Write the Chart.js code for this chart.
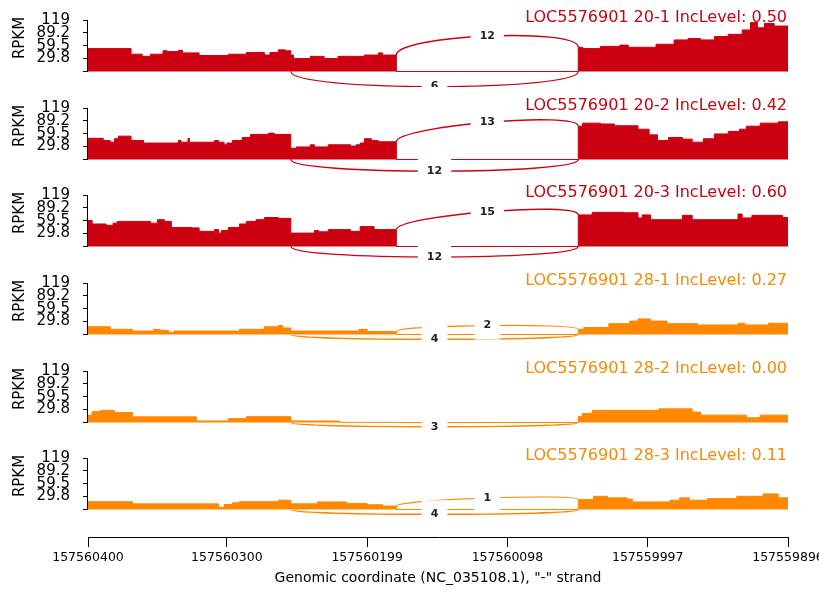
<!DOCTYPE html>
<html>
<head>
<meta charset="utf-8">
<script src="https://cdn.jsdelivr.net/npm/chart.js@4.4.1/dist/chart.umd.min.js"></script>
<style>
  body { margin: 0; background: #fff; }
  #wrap { position: relative; width: 819px; height: 596px; overflow: hidden; }
  .panel { position: absolute; left: 0; width: 819px; }
</style>
</head>
<body>
<div id="wrap"></div>
<script>
const GENE = 'LOC5576901'
const START = 157560400
const END = 157559896
const samples = ['20-1', '20-2', '20-3', '28-1', '28-2', '28-3']
const incLevels = ['0.50', '0.42', '0.60', '0.27', '0.00', '0.11']
const groupColors = ['#CC0011', '#CC0011', '#CC0011', '#FF8800', '#FF8800', '#FF8800']
const yTicks = [0, 29.8, 59.5, 89.2, 119]
const xTicks = [157560400, 157560300, 157560199, 157560098, 157559997, 157559896]
const xTitle = 'Genomic coordinate (NC_035108.1), "-" strand'

// exons and junctions, in bp counted from START (minus strand, so leftwards)
const exonUp = [0, 222]
const exonDown = [353, 504]
const incJunction = [222, 353]
const skipJunction = [146, 353]
const incCounts = [12, 13, 15, 2, 0, 1]
const skipCounts = [6, 12, 12, 4, 3, 4]

// coverage steps [bp from START, RPKM]
const cov20_1 = [[0, 53], [31, 40], [39, 35], [45, 40], [54, 48], [57, 46], [65, 49], [68, 43], [80, 37],
  [101, 40], [114, 44], [127, 38], [131, 44], [137, 50], [142, 48], [146, 38], [148, 30], [160, 35],
  [170, 30], [180, 35], [199, 38], [209, 43], [212, 38],
  [353, 56], [356, 53], [369, 58], [383, 61], [389, 56], [409, 63], [422, 73], [432, 76], [441, 73],
  [451, 81], [461, 86], [471, 96], [477, 113], [482, 101], [487, 111], [494, 105]]
const cov20_2 = [[0, 49], [11, 44], [16, 40], [19, 48], [22, 54], [31, 44], [40, 38], [65, 44], [67, 40],
  [72, 49], [73, 40], [91, 44], [94, 40], [98, 34], [100, 38], [104, 44], [111, 51], [117, 58], [130, 61],
  [134, 58], [146, 26], [150, 29], [160, 34], [163, 29], [173, 34], [189, 31], [193, 34], [196, 38],
  [199, 48], [204, 44], [209, 41],
  [353, 77], [356, 84], [369, 82], [379, 78], [396, 70], [404, 57], [410, 44], [418, 51], [428, 47],
  [435, 40], [443, 48], [451, 59], [461, 65], [469, 70], [474, 77], [484, 84], [497, 87]]
const cov20_3 = [[0, 60], [3, 52], [13, 49], [18, 54], [21, 58], [45, 54], [50, 62], [55, 58], [60, 44],
  [75, 43], [80, 35], [91, 39], [94, 31], [96, 37], [101, 44], [109, 52], [114, 58], [121, 62], [127, 67],
  [137, 65], [146, 31], [163, 37], [166, 34], [173, 39], [189, 35], [196, 46], [206, 39],
  [353, 73], [363, 79], [386, 78], [396, 66], [399, 73], [405, 62], [428, 72], [435, 62], [468, 75],
  [471, 66], [478, 72], [500, 67]]
const cov28_1 = [[0, 18], [16, 12], [32, 8], [47, 12], [52, 10], [58, 5], [62, 8], [109, 12], [127, 18],
  [137, 21], [140, 15], [146, 8], [195, 12], [201, 7],
  [353, 12], [357, 16], [375, 25], [390, 31], [396, 36], [405, 31], [417, 25], [439, 22], [468, 26],
  [473, 22], [490, 26]]
const cov28_2 = [[0, 17], [3, 25], [9, 28], [19, 23], [32, 13], [78, 3.5], [101, 9], [114, 13.5],
  [146, 3.5], [181, 0.5],
  [353, 14], [356, 21], [363, 28], [411, 31.5], [435, 24], [441, 17], [474, 11], [484, 17]]
const cov28_3 = [[0, 18], [32, 13], [94, 5], [98, 11.5], [104, 15.5], [109, 18], [137, 21.5], [146, 13],
  [165, 17.5], [186, 14], [201, 11], [212, 8],
  [353, 23], [364, 30.5], [374, 27], [388, 24], [392, 17.5], [419, 21.5], [426, 27], [433, 21.5],
  [446, 25], [467, 30.5], [486, 36], [497, 27]]
const coverages = [cov20_1, cov20_2, cov20_3, cov28_1, cov28_2, cov28_3]

const FONT = '"DejaVu Sans", sans-serif'
const panelTops = [0, 88, 175, 263, 351, 438]
const AXIS_TOP = 20      // pixel of 119 inside each panel box
const AXIS_SPAN = 51.5   // pixels from 0 to 119

function coveragePoints(cov) {
  const pts = []
  let down = false
  cov.forEach(([off, v]) => {
    if (!down && off >= exonDown[0]) {
      pts.push({x: START - exonUp[1], y: 0})
      down = true
    }
    pts.push({x: START - off, y: v})
  })
  pts.push({x: START - exonDown[1], y: 0})
  return pts
}

function covAt(cov, off) {
  let v = 0
  cov.forEach(([o, val]) => { if (o <= off) v = val })
  return v
}

const sashimi = {
  id: 'sashimi',
  afterDatasetsDraw(chart, args, opts) {
    const {ctx, chartArea} = chart
    const x = chart.scales.x
    const y = chart.scales.y
    const px = off => x.getPixelForValue(START - off)
    ctx.save()

    // y spine only over 0..119
    ctx.strokeStyle = '#000'
    ctx.lineWidth = 1
    ctx.beginPath()
    ctx.moveTo(chartArea.left - 0.5, y.getPixelForValue(0))
    ctx.lineTo(chartArea.left - 0.5, y.getPixelForValue(119))
    ctx.stroke()

    // junction arcs
    const labels = []
    opts.junctions.forEach(j => {
      if (!j.count) return
      const pts = j.top
        ? [[j.from, j.ld], [j.from, j.ld + opts.h], [j.to, j.rd + opts.h], [j.to, j.rd]]
        : [[j.from, 0], [j.from, -opts.h], [j.to, -opts.h], [j.to, 0]]
      const p = pts.map(([a, b]) => [px(a), y.getPixelForValue(b)])
      ctx.strokeStyle = opts.color
      ctx.lineWidth = 1.4 * (Math.log(j.count + 1) / Math.log(opts.maxCount + 1) * 0.5 + 0.5)
      ctx.beginPath()
      ctx.moveTo(p[0][0], p[0][1])
      ctx.bezierCurveTo(p[1][0], p[1][1], p[2][0], p[2][1], p[3][0], p[3][1])
      ctx.stroke()
      labels.push({
        x: (p[0][0] + 3 * p[1][0] + 3 * p[2][0] + p[3][0]) / 8,
        y: (p[0][1] + 3 * p[1][1] + 3 * p[2][1] + p[3][1]) / 8,
        text: String(j.count)
      })
    })
    ctx.font = 'bold 11px ' + FONT
    ctx.textAlign = 'center'
    ctx.textBaseline = 'middle'
    labels.forEach(l => {
      const w = ctx.measureText(l.text).width + 18
      ctx.fillStyle = '#fff'
      ctx.fillRect(l.x - w / 2, l.y - 14, w, 28)
      ctx.fillStyle = '#222'
      ctx.fillText(l.text, l.x, l.y)
    })

    // panel title
    ctx.font = '16px ' + FONT
    ctx.fillStyle = opts.color
    ctx.textAlign = 'right'
    ctx.fillText(opts.title, chartArea.right - 1, y.getPixelForValue(119) - 2)

    // y label
    ctx.translate(20, y.getPixelForValue(119) + 18)
    ctx.rotate(-Math.PI / 2)
    ctx.font = '15px ' + FONT
    ctx.fillStyle = '#000'
    ctx.textAlign = 'center'
    ctx.fillText('RPKM', 0, 0)
    ctx.restore()
  }
}

function makePanel(i) {
  const last = i === samples.length - 1
  const top = panelTops[i]
  const height = last ? 596 - top : 87
  const areaBottom = last ? 99 : 87

  const div = document.createElement('div')
  div.className = 'panel'
  div.style.top = top + 'px'
  div.style.height = height + 'px'
  const canvas = document.createElement('canvas')
  div.appendChild(canvas)
  document.getElementById('wrap').appendChild(div)

  const cov = coverages[i]
  const color = groupColors[i]
  const yMin = -119 * (areaBottom - AXIS_TOP - AXIS_SPAN) / AXIS_SPAN
  // rmats2sashimiplot: ymax = 1.1*max, ymin = -ymax/2, arc height = -3*ymin/4
  const h = 0.4125 * Math.max(...cov.map(c => c[1]))

  new Chart(canvas, {
    type: 'line',
    data: {
      datasets: [{
        data: coveragePoints(cov),
        stepped: true,
        fill: 'origin',
        borderColor: color,
        backgroundColor: color,
        borderWidth: 1,
        pointRadius: 0
      }]
    },
    plugins: [sashimi],
    options: {
      responsive: true,
      maintainAspectRatio: false,
      animation: false,
      layout: {padding: {top: AXIS_TOP, right: 31, bottom: 0, left: 0}},
      plugins: {
        legend: {display: false},
        tooltip: {enabled: false},
        sashimi: {
          color: color,
          h: h,
          maxCount: Math.max(incCounts[i], skipCounts[i]),
          title: GENE + ' ' + samples[i] + ' IncLevel: ' + incLevels[i],
          junctions: [
            {from: incJunction[0], to: incJunction[1], count: incCounts[i], top: true,
             ld: covAt(cov, incJunction[0] - 1), rd: covAt(cov, incJunction[1])},
            {from: skipJunction[0], to: skipJunction[1], count: skipCounts[i], top: false}
          ]
        }
      },
      scales: {
        x: {
          type: 'linear',
          min: END,
          max: START,
          reverse: true,
          display: last,
          afterBuildTicks: s => { s.ticks = xTicks.map(v => ({value: v})) },
          afterFit: s => { s.paddingLeft = 0; s.paddingRight = 0; s.height = height - areaBottom },
          grid: {drawOnChartArea: false, drawTicks: true, tickLength: 10, color: '#000'},
          border: {display: true, color: '#000', width: 1},
          ticks: {
            autoSkip: false,
            maxRotation: 0,
            padding: 3,
            color: '#000',
            font: {family: FONT, size: 12.5},
            callback: v => String(v)
          },
          title: {
            display: true,
            text: xTitle,
            color: '#000',
            font: {family: FONT, size: 14},
            padding: {top: 0, bottom: 9}
          }
        },
        y: {
          min: yMin,
          max: 119,
          afterBuildTicks: s => { s.ticks = yTicks.map(v => ({value: v})) },
          afterFit: s => { s.width = 88; s.paddingTop = 0; s.paddingBottom = 0 },
          grid: {drawOnChartArea: false, drawTicks: true, tickLength: 5, color: '#000'},
          border: {display: false},
          ticks: {
            autoSkip: false,
            padding: 13,
            color: '#000',
            font: {family: FONT, size: 15},
            callback: v => v === 0 ? '' : String(v)
          }
        }
      }
    }
  })
}

samples.forEach((s, i) => makePanel(i))
</script>
</body>
</html>
